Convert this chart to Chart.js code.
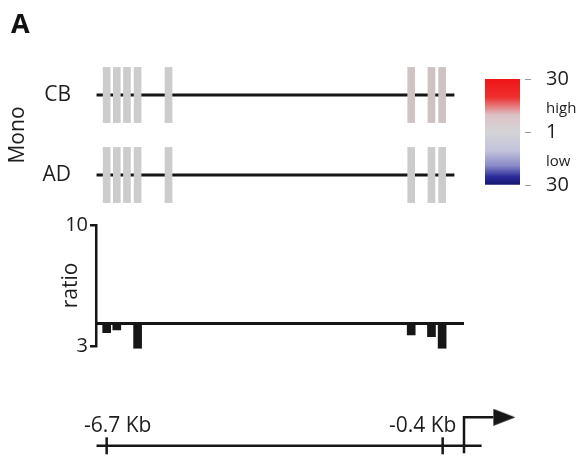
<!DOCTYPE html>
<html>
<head>
<meta charset="utf-8">
<script src="https://cdn.jsdelivr.net/npm/chart.js@4.4.1/dist/chart.umd.min.js"></script>
<style>
  body { margin: 0; background: #fff; }
  .layer { position: absolute; left: 0; top: 0; width: 581px; height: 466px; }
</style>
</head>
<body>
<div class="layer"><canvas id="monoChart" width="581" height="466"></canvas></div>
<div class="layer"><canvas id="keyChart" width="581" height="466"></canvas></div>
<div class="layer"><canvas id="ratioChart" width="581" height="466"></canvas></div>
<div class="layer"><canvas id="scaleChart" width="581" height="466"></canvas></div>
<script>
// CpG sites, position in kb from the TSS
const sites = [-6.70, -6.51, -6.32, -6.12, -5.54, -0.99, -0.61, -0.41];

// methylation rows (fold, 1 = no change)
const rows = ['CB', 'AD'];
const rowY = [3, 1];
const cbLevel = [1, 1, 1, 1, 1, 1.17, 1.2, 1.2];
const adLevel = [1, 1, 1, 1, 1, 1, 1, 1];
const lineSpan = [-6.89, -0.18];

// ratio panel
const ratio = [3.77, 3.93, 4.30, 2.87, 4.30, 3.64, 3.54, 2.87];
const ratioBase = 4.3;
const ratioTicks = [3, 10];

// colour key
const keyTicks = [0, 0.22, 0.5, 0.72, 1];
const keyLabels = ['30', 'low', '1', 'high', '30'];

// genomic scale
const scaleMarks = [-6.7, -0.4];
const scaleLabels = ['-6.7 Kb', '-0.4 Kb'];
const scaleSpan = [-6.89, 0.33];
const tss = 0;
const arrowEnd = 0.55;

Chart.defaults.font.family = "'Open Sans', sans-serif";
Chart.defaults.color = '#1e1e1e';

// shared x layout so all panels line up
const X_MIN = -6.9, X_MAX = 1.2;
const AXIS_W = 96;
const PAD_RIGHT = 53;
const INK = '#161616';

function xAxis() {
    return { type: 'linear', min: X_MIN, max: X_MAX, offset: false, display: false };
}

const GREY = [204, 204, 204], RED = [238, 28, 28], NAVY = [23, 23, 122];
function levelColor(v) {
    const t = Math.log(v) / Math.log(30);
    const to = t >= 0 ? RED : NAVY;
    const k = Math.min(1, Math.abs(t));
    const c = GREY.map((g, i) => Math.round(g + (to[i] - g) * k));
    return `rgb(${c[0]},${c[1]},${c[2]})`;
}

const baseOpts = {
    responsive: false,
    animation: false,
    events: [],
    plugins: { legend: { display: false }, tooltip: { enabled: false } }
};

// 1. panel letter
const panelLetter = {
    id: 'panelLetter',
    afterDraw(chart) {
        const c = chart.ctx;
        c.save();
        c.font = "bold 27px 'Open Sans'";
        c.fillStyle = '#111';
        c.fillText('A', 11, 33);
        c.restore();
    }
};

// 2. methylation rows
const BLOCK_H = 0.69;
const blockData = [];
const blockColors = [];
rows.forEach((r, ri) => {
    const lv = ri === 0 ? cbLevel : adLevel;
    sites.forEach((s, i) => {
        blockData.push({ x: s, y: [rowY[ri] - BLOCK_H, rowY[ri] + BLOCK_H] });
        blockColors.push(levelColor(lv[i]));
    });
});

const rowLines = rows.map((r, ri) => ({
    type: 'line',
    label: r,
    data: [{ x: lineSpan[0], y: rowY[ri] }, { x: lineSpan[1], y: rowY[ri] }],
    borderColor: INK,
    borderWidth: 3,
    pointRadius: 0,
    order: 1
}));

new Chart(document.getElementById('monoChart'), {
    type: 'bar',
    data: {
        datasets: [
            { label: 'sites', data: blockData, backgroundColor: blockColors, barThickness: 7, borderWidth: 0, order: 0 },
            ...rowLines
        ]
    },
    options: {
        ...baseOpts,
        layout: { padding: { left: 0, right: PAD_RIGHT, top: 55, bottom: 251 } },
        scales: {
            x: xAxis(),
            y: {
                min: 0, max: 4,
                afterFit: s => { s.width = AXIS_W; },
                afterBuildTicks: s => { s.ticks = rowY.map(v => ({ value: v })); },
                grid: { display: false, drawTicks: false },
                border: { display: false },
                ticks: { padding: 25, font: { size: 21 }, callback: (v, i) => rows[i] },
                title: { display: true, text: 'Mono', font: { size: 21 }, padding: { top: 5, bottom: 0 } }
            }
        }
    },
    plugins: [panelLetter]
});

// 3. colour key
function keyGradient(ctx) {
    const a = ctx.chart.chartArea;
    if (!a) return '#ccc';
    const g = ctx.chart.ctx.createLinearGradient(0, a.top, 0, a.bottom);
    g.addColorStop(0, '#ee1616');
    g.addColorStop(0.17, '#ef2e2e');
    g.addColorStop(0.34, '#dcc2c6');
    g.addColorStop(0.5, '#d4d4d6');
    g.addColorStop(0.68, '#c2c2dc');
    g.addColorStop(0.82, '#8888c6');
    g.addColorStop(0.92, '#2c2c9c');
    g.addColorStop(1, '#15156e');
    return g;
}
const isNum = i => /^\d+$/.test(keyLabels[i] || '');

new Chart(document.getElementById('keyChart'), {
    type: 'bar',
    data: {
        labels: [''],
        datasets: [{ data: [[0, 1]], backgroundColor: keyGradient, borderWidth: 0, barPercentage: 1, categoryPercentage: 1 }]
    },
    options: {
        ...baseOpts,
        layout: { padding: { left: 485, right: 0, top: 79, bottom: 281 } },
        scales: {
            x: { display: false },
            y: {
                position: 'right',
                min: 0, max: 1,
                afterFit: s => { s.width = 61; },
                afterBuildTicks: s => { s.ticks = keyTicks.map(v => ({ value: v })); },
                grid: {
                    drawOnChartArea: false, drawTicks: true, tickLength: 11, tickWidth: 1.2,
                    tickColor: c => isNum(c.index) ? '#9a9a9a' : 'rgba(0,0,0,0)',
                    tickBorderDash: [0, 5, 6, 100]
                },
                border: { display: false },
                ticks: {
                    autoSkip: false,
                    padding: 15,
                    font: c => ({ size: isNum(c.index) ? 20 : 15 }),
                    callback: (v, i) => keyLabels[i]
                }
            }
        }
    }
});

// 4. ratio bars
new Chart(document.getElementById('ratioChart'), {
    type: 'bar',
    data: {
        datasets: [
            {
                type: 'line', label: 'base',
                data: [{ x: X_MIN, y: ratioBase }, { x: tss, y: ratioBase }],
                borderColor: INK, borderWidth: 3, pointRadius: 0, order: 0
            },
            {
                label: 'ratio',
                data: sites.map((s, i) => ({ x: s, y: [ratioBase, ratio[i]] })),
                backgroundColor: INK, borderWidth: 0, barThickness: 8, clip: false, order: 1
            }
        ]
    },
    options: {
        ...baseOpts,
        layout: { padding: { left: 0, right: PAD_RIGHT, top: 225, bottom: 120 } },
        scales: {
            x: xAxis(),
            y: {
                min: 3, max: 10,
                afterFit: s => { s.width = AXIS_W; },
                afterBuildTicks: s => { s.ticks = ratioTicks.map(v => ({ value: v })); },
                grid: { drawOnChartArea: false, drawTicks: true, tickLength: 6, color: INK, lineWidth: 2.5 },
                border: { display: true, color: INK, width: 2.5 },
                ticks: { padding: 2, font: { size: 20 } },
                title: { display: true, text: 'ratio', font: { size: 21 }, padding: { top: 58, bottom: 0 } }
            }
        }
    }
});

// 5. genomic scale with TSS arrow
const head = document.createElement('canvas');
head.width = 44; head.height = 17;
(function () {
    const c = head.getContext('2d');
    c.fillStyle = INK;
    c.beginPath();
    c.moveTo(22, 0); c.lineTo(44, 8.5); c.lineTo(22, 17);
    c.closePath();
    c.fill();
})();

const markText = {
    id: 'markText',
    afterDatasetsDraw(chart) {
        const c = chart.ctx, x = chart.scales.x;
        const shift = [11, -20];
        c.save();
        c.font = "21px 'Open Sans'";
        c.fillStyle = '#1e1e1e';
        c.textAlign = 'center';
        scaleLabels.forEach((t, i) => {
            c.fillText(t, x.getPixelForValue(scaleMarks[i]) + shift[i], 432);
        });
        c.restore();
    }
};

new Chart(document.getElementById('scaleChart'), {
    type: 'line',
    data: {
        datasets: [
            {
                label: 'scale',
                data: [{ x: scaleSpan[0], y: 1 }, { x: scaleSpan[1], y: 1 }],
                borderColor: INK, borderWidth: 2.5, pointRadius: 0
            },
            {
                label: 'marks',
                data: scaleMarks.map(m => ({ x: m, y: 1 })),
                showLine: false, pointStyle: 'line', pointRotation: 90, pointRadius: 8.5,
                pointBorderColor: INK, pointBorderWidth: 2.5
            },
            {
                label: 'tss',
                data: [{ x: tss, y: 0.2 }, { x: tss, y: 4.1 }, { x: arrowEnd, y: 4.1 }],
                borderColor: INK, borderWidth: 2.5, borderJoinStyle: 'miter', borderCapStyle: 'butt',
                pointRadius: [0, 0, 5], pointStyle: head
            }
        ]
    },
    options: {
        ...baseOpts,
        layout: { padding: { left: AXIS_W, right: PAD_RIGHT, top: 409, bottom: 7 } },
        scales: {
            x: xAxis(),
            y: { min: 0, max: 5, display: false }
        }
    },
    plugins: [markText]
});
</script>
</body>
</html>
